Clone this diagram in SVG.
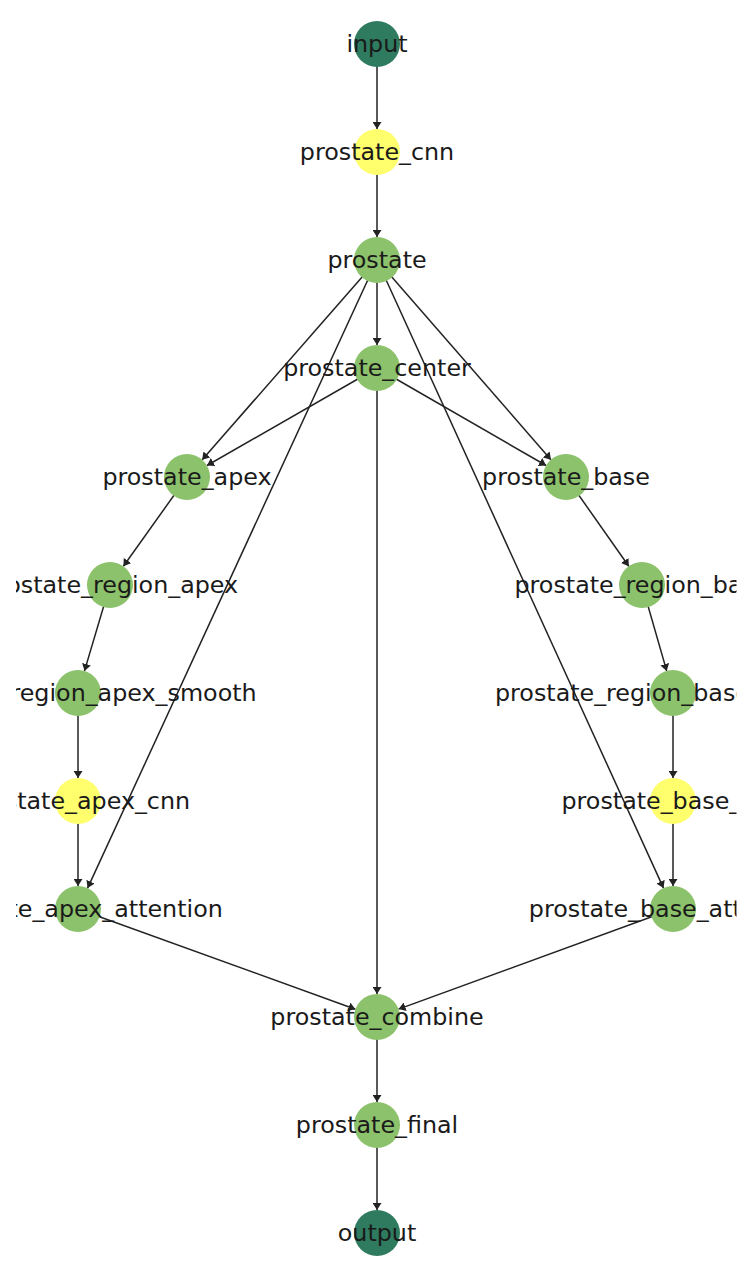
<svg xmlns="http://www.w3.org/2000/svg" width="746" height="1276" viewBox="0 0 746 1276">
<style>
.e{stroke:#222;stroke-width:1.5;fill:none;marker-end:url(#ah)}
.n{stroke:none}
.io{fill:#2e7b5f}
.g{fill:#8cc26b}
.y{fill:#ffff6e}
text{font-family:"DejaVu Sans",sans-serif;font-size:23.8px;fill:#1a1a1a;text-anchor:middle;dominant-baseline:central}
</style>
<defs>
<marker id="ah" markerUnits="userSpaceOnUse" markerWidth="8" markerHeight="9" refX="7" refY="4.5" orient="auto">
<path d="M0,0 L7,4.5 L0,9 z" fill="#222"/>
</marker>
<clipPath id="ax"><rect x="16" y="0" width="720.5" height="1276"/></clipPath>
</defs>
<rect width="746" height="1276" fill="#fff"/>
<g id="edges">
<line class="e" x1="377" y1="44" x2="377" y2="129"/>
<line class="e" x1="377" y1="152" x2="377" y2="237"/>
<line class="e" x1="377" y1="260" x2="377" y2="345"/>
<line class="e" x1="377" y1="260" x2="202.2" y2="459.7"/>
<line class="e" x1="377" y1="260" x2="550.9" y2="459.7"/>
<line class="e" x1="377" y1="368" x2="207" y2="465.5"/>
<line class="e" x1="377" y1="368" x2="546.1" y2="465.5"/>
<line class="e" x1="377" y1="260" x2="87.6" y2="888.1"/>
<line class="e" x1="377" y1="260" x2="663.5" y2="888.1"/>
<line class="e" x1="377" y1="368" x2="377" y2="994"/>
<line class="e" x1="187" y1="477" x2="123.4" y2="566.3"/>
<line class="e" x1="110" y1="585" x2="84.5" y2="670.9"/>
<line class="e" x1="78" y1="693" x2="78" y2="778"/>
<line class="e" x1="78" y1="801" x2="78" y2="886"/>
<line class="e" x1="78" y1="909" x2="355.4" y2="1009.2"/>
<line class="e" x1="566" y1="477" x2="628.8" y2="566.2"/>
<line class="e" x1="642" y1="585" x2="666.7" y2="670.9"/>
<line class="e" x1="673" y1="693" x2="673" y2="778"/>
<line class="e" x1="673" y1="801" x2="673" y2="886"/>
<line class="e" x1="673" y1="909" x2="398.6" y2="1009.1"/>
<line class="e" x1="377" y1="1017" x2="377" y2="1102"/>
<line class="e" x1="377" y1="1125" x2="377" y2="1210"/>
</g>
<g id="input"><circle class="n io" cx="377" cy="44" r="23"/><text x="377" y="44">input</text></g>
<g id="prostate_cnn"><circle class="n y" cx="377" cy="152" r="23"/><text x="377" y="152">prostate_cnn</text></g>
<g id="prostate"><circle class="n g" cx="377" cy="260" r="23"/><text x="377" y="260">prostate</text></g>
<g id="prostate_center"><circle class="n g" cx="377" cy="368" r="23"/><text x="377" y="368">prostate_center</text></g>
<g id="prostate_apex"><circle class="n g" cx="187" cy="477" r="23"/><text x="187" y="477">prostate_apex</text></g>
<g id="prostate_base"><circle class="n g" cx="566" cy="477" r="23"/><text x="566" y="477">prostate_base</text></g>
<g id="prostate_region_apex" clip-path="url(#ax)"><circle class="n g" cx="110" cy="585" r="23"/><text x="110" y="585">prostate_region_apex</text></g>
<g id="prostate_region_base" clip-path="url(#ax)"><circle class="n g" cx="642" cy="585" r="23"/><text x="642" y="585">prostate_region_base</text></g>
<g id="prostate_region_apex_smooth" clip-path="url(#ax)"><circle class="n g" cx="78" cy="693" r="23"/><text x="78" y="693">prostate_region_apex_smooth</text></g>
<g id="prostate_region_base_smooth" clip-path="url(#ax)"><circle class="n g" cx="673" cy="693" r="23"/><text x="673" y="693">prostate_region_base_smooth</text></g>
<g id="prostate_apex_cnn" clip-path="url(#ax)"><circle class="n y" cx="78" cy="801" r="23"/><text x="78" y="801">prostate_apex_cnn</text></g>
<g id="prostate_base_cnn" clip-path="url(#ax)"><circle class="n y" cx="673" cy="801" r="23"/><text x="673" y="801">prostate_base_cnn</text></g>
<g id="prostate_apex_attention" clip-path="url(#ax)"><circle class="n g" cx="78" cy="909" r="23"/><text x="78" y="909">prostate_apex_attention</text></g>
<g id="prostate_base_attention" clip-path="url(#ax)"><circle class="n g" cx="673" cy="909" r="23"/><text x="673" y="909">prostate_base_attention</text></g>
<g id="prostate_combine"><circle class="n g" cx="377" cy="1017" r="23"/><text x="377" y="1017">prostate_combine</text></g>
<g id="prostate_final"><circle class="n g" cx="377" cy="1125" r="23"/><text x="377" y="1125">prostate_final</text></g>
<g id="output"><circle class="n io" cx="377" cy="1233" r="23"/><text x="377" y="1233">output</text></g>
</svg>
